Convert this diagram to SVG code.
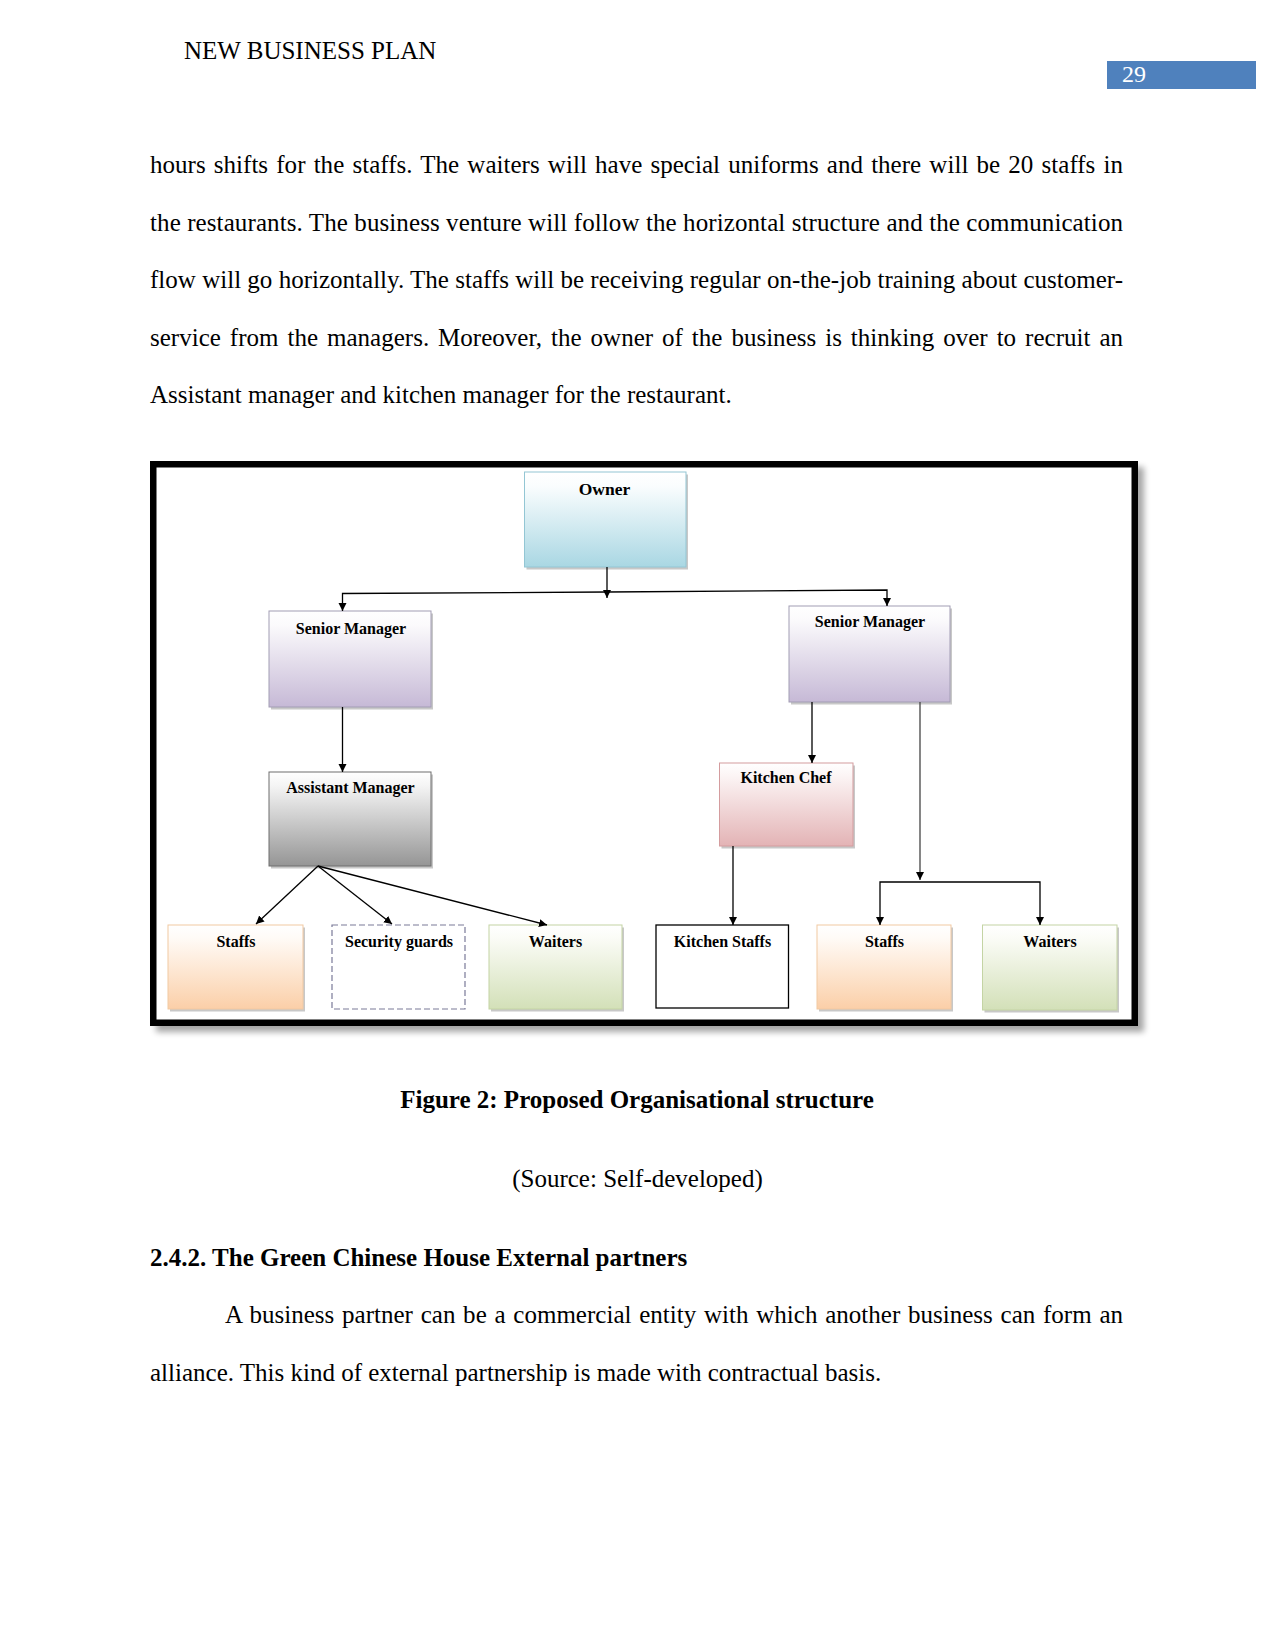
<svg xmlns="http://www.w3.org/2000/svg" width="1275" height="1650" viewBox="0 0 1275 1650">
<defs>
<style>
.body{font-family:"Liberation Serif","Times New Roman",serif;font-size:25px;fill:#000}
.bold{font-weight:bold}
.lbl{font-family:"Liberation Serif","Times New Roman",serif;font-size:16px;font-weight:bold;text-anchor:middle;fill:#000}
.shadow{fill:#9a9a9a;opacity:0.55}
.conn path{fill:none;stroke:#000;stroke-width:1.3}
</style>
<linearGradient id="gOwner" x1="0" y1="0" x2="0" y2="1"><stop offset="0" stop-color="#ffffff"/><stop offset="0.15" stop-color="#fafdfe"/><stop offset="1" stop-color="#a9d7e3"/></linearGradient>
<linearGradient id="gSM" x1="0" y1="0" x2="0" y2="1"><stop offset="0" stop-color="#ffffff"/><stop offset="0.15" stop-color="#fbfafc"/><stop offset="1" stop-color="#c6b9d6"/></linearGradient>
<linearGradient id="gAM" x1="0" y1="0" x2="0" y2="1"><stop offset="0" stop-color="#ffffff"/><stop offset="0.15" stop-color="#f4f4f4"/><stop offset="1" stop-color="#959595"/></linearGradient>
<linearGradient id="gKC" x1="0" y1="0" x2="0" y2="1"><stop offset="0" stop-color="#ffffff"/><stop offset="0.15" stop-color="#fcf5f5"/><stop offset="1" stop-color="#e3b3b5"/></linearGradient>
<linearGradient id="gST" x1="0" y1="0" x2="0" y2="1"><stop offset="0" stop-color="#ffffff"/><stop offset="0.15" stop-color="#fffbf7"/><stop offset="1" stop-color="#fbcfa8"/></linearGradient>
<linearGradient id="gWA" x1="0" y1="0" x2="0" y2="1"><stop offset="0" stop-color="#ffffff"/><stop offset="0.15" stop-color="#fbfcf7"/><stop offset="1" stop-color="#d3e0b8"/></linearGradient>
<filter id="blur" x="-5%" y="-5%" width="110%" height="110%"><feGaussianBlur stdDeviation="3"/></filter>
<marker id="arr" markerUnits="userSpaceOnUse" markerWidth="9" markerHeight="9" refX="8" refY="4" orient="auto"><path d="M0,0 L8,4 L0,8 z" fill="#000"/></marker>
</defs>
<rect width="1275" height="1650" fill="#fff"/>

<!-- header -->
<text class="body" x="184" y="59">NEW BUSINESS PLAN</text>
<rect x="1107" y="61" width="149" height="28" fill="#4f81bd"/>
<text class="body" x="1122" y="82" style="fill:#fff;font-size:24px">29</text>

<!-- body text -->
<text class="body" x="150" y="173" word-spacing="1.9" textLength="973" lengthAdjust="spacing">hours shifts for the staffs. The waiters will have special uniforms and there will be 20 staffs in</text>
<text class="body" x="150" y="230.5" textLength="973" lengthAdjust="spacing">the restaurants. The business venture will follow the horizontal structure and the communication</text>
<text class="body" x="150" y="288" textLength="973" lengthAdjust="spacing">flow will go horizontally. The staffs will be receiving regular on-the-job training about customer-</text>
<text class="body" x="150" y="345.5" word-spacing="2.7" textLength="973" lengthAdjust="spacing">service from the managers. Moreover, the owner of the business is thinking over to recruit an</text>
<text class="body" x="150" y="403">Assistant manager and kitchen manager for the restaurant.</text>

<!-- frame -->
<rect x="156" y="467" width="988" height="565" fill="#000" opacity="0.35" filter="url(#blur)"/>
<rect x="153.25" y="464.25" width="981.5" height="558.5" fill="#fff" stroke="#000" stroke-width="6.5"/>

<!-- nodes -->
<g id="owner">
<rect class="shadow" x="526.5" y="474.5" width="161.5" height="95"/>
<rect x="524.5" y="472" width="161.5" height="95" fill="url(#gOwner)" stroke="#93c6d4" stroke-width="1"/>
<text class="lbl" x="604.5" y="495" style="font-size:17.5px">Owner</text>
</g>
<g id="senior-manager-left">
<rect class="shadow" x="271" y="613.5" width="162" height="96"/>
<rect x="269" y="611" width="162" height="96" fill="url(#gSM)" stroke="#a29db4" stroke-width="1"/>
<text class="lbl" x="351" y="634">Senior Manager</text>
</g>
<g id="senior-manager-right">
<rect class="shadow" x="791" y="608.5" width="161" height="96"/>
<rect x="789" y="606" width="161" height="96" fill="url(#gSM)" stroke="#a29db4" stroke-width="1"/>
<text class="lbl" x="870" y="627">Senior Manager</text>
</g>
<g id="assistant-manager">
<rect class="shadow" x="271" y="774.5" width="162" height="94"/>
<rect x="269" y="772" width="162" height="94" fill="url(#gAM)" stroke="#6e6e6e" stroke-width="1"/>
<text class="lbl" x="350.5" y="793">Assistant Manager</text>
</g>
<g id="kitchen-chef">
<rect class="shadow" x="721.5" y="765.5" width="133.5" height="83"/>
<rect x="719.5" y="763" width="133.5" height="83" fill="url(#gKC)" stroke="#d49c9e" stroke-width="1"/>
<text class="lbl" x="786" y="783">Kitchen Chef</text>
</g>
<g id="staffs-left">
<rect class="shadow" x="170" y="927.5" width="135" height="84"/>
<rect x="168" y="925" width="135" height="84" fill="url(#gST)" stroke="#f2c9a2" stroke-width="1"/>
<text class="lbl" x="236" y="947">Staffs</text>
</g>
<g id="security-guards">
<rect x="332" y="925" width="133" height="84" fill="#fff" stroke="#7a7a98" stroke-width="1.2" stroke-dasharray="6,3"/>
<text class="lbl" x="399" y="947">Security guards</text>
</g>
<g id="waiters-left">
<rect class="shadow" x="491" y="927.5" width="133" height="84"/>
<rect x="489" y="925" width="133" height="84" fill="url(#gWA)" stroke="#c4d4a4" stroke-width="1"/>
<text class="lbl" x="555.5" y="947">Waiters</text>
</g>
<g id="kitchen-staffs">
<rect x="656" y="925" width="132.5" height="83" fill="#fff" stroke="#000" stroke-width="1.3"/>
<text class="lbl" x="722.5" y="947">Kitchen Staffs</text>
</g>
<g id="staffs-right">
<rect class="shadow" x="819" y="927.5" width="134" height="84"/>
<rect x="817" y="925" width="134" height="84" fill="url(#gST)" stroke="#f2c9a2" stroke-width="1"/>
<text class="lbl" x="884.5" y="947">Staffs</text>
</g>
<g id="waiters-right">
<rect class="shadow" x="984.5" y="927.5" width="134.5" height="85"/>
<rect x="982.5" y="925" width="134.5" height="85" fill="url(#gWA)" stroke="#c4d4a4" stroke-width="1"/>
<text class="lbl" x="1050" y="947">Waiters</text>
</g>

<!-- connectors -->
<g id="connectors" class="conn">
<path d="M607,567 L607,598" marker-end="url(#arr)"/>
<path d="M607,592 L342.5,593.5 L342.5,611" marker-end="url(#arr)"/>
<path d="M607,592 L887,590 L887,606" marker-end="url(#arr)"/>
<path d="M342.5,707 L342.5,772" marker-end="url(#arr)"/>
<path d="M318,866 L256,924" marker-end="url(#arr)"/>
<path d="M318,866 L392,924" marker-end="url(#arr)"/>
<path d="M318,866 L547,925" marker-end="url(#arr)"/>
<path d="M812,702 L812,763" marker-end="url(#arr)"/>
<path d="M733,846 L733,925" marker-end="url(#arr)"/>
<path d="M920,702 L920,880" marker-end="url(#arr)" style="stroke:#444"/>
<path d="M920,882 L880,882 L880,925" marker-end="url(#arr)"/>
<path d="M920,882 L1040,882 L1040,925" marker-end="url(#arr)"/>
</g>

<!-- captions and following text -->
<text class="body bold" x="637" y="1108" text-anchor="middle">Figure 2: Proposed Organisational structure</text>
<text class="body" x="637.5" y="1187" text-anchor="middle">(Source: Self-developed)</text>
<text class="body bold" x="150" y="1266">2.4.2. The Green Chinese House External partners</text>
<text class="body" x="225" y="1323" word-spacing="1.45" textLength="898" lengthAdjust="spacing">A business partner can be a commercial entity with which another business can form an</text>
<text class="body" x="150" y="1380.5">alliance. This kind of external partnership is made with contractual basis.</text>
</svg>
